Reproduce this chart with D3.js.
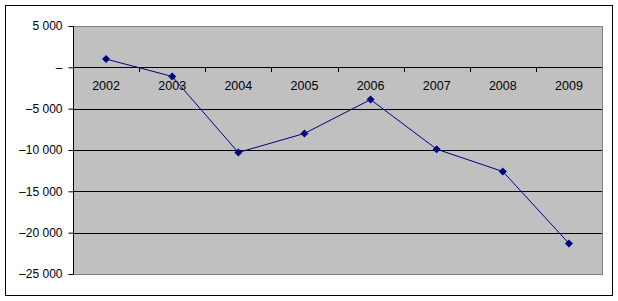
<!DOCTYPE html>
<html>
<head>
<meta charset="utf-8">
<script src="https://cdn.jsdelivr.net/npm/d3@7"></script>
<style>
  body { margin: 0; background: #fff; }
  svg { display: block; }
</style>
</head>
<body>
<div id="chart"></div>
<script>
const years = ["2002", "2003", "2004", "2005", "2006", "2007", "2008", "2009"];
const values = [1000, -1100, -10300, -8000, -3900, -9900, -12600, -21300];
const yTicks = [5000, 0, -5000, -10000, -15000, -20000, -25000];

const W = 618, H = 301;
const plot = { left: 73, right: 602, top: 26, bottom: 274 };

const svg = d3.select("#chart")
  .append("svg")
    .attr("width", W)
    .attr("height", H)
    .style("font-family", "Arial, 'Liberation Sans', sans-serif");

// chart frame
svg.append("rect")
  .attr("x", 5.5).attr("y", 5.5)
  .attr("width", 607).attr("height", 290)
  .attr("fill", "#fff")
  .attr("stroke", "#000")
  .attr("stroke-width", 1);

const x = d3.scaleBand()
  .domain(years)
  .range([plot.left, plot.right]);

const y = d3.scaleLinear()
  .domain([-25000, 5000])
  .range([plot.bottom, plot.top]);

// plot area
svg.append("rect")
  .attr("x", plot.left + 0.5).attr("y", plot.top + 0.5)
  .attr("width", plot.right - plot.left).attr("height", plot.bottom - plot.top)
  .attr("fill", "#c0c0c0")
  .attr("stroke", "#808080")
  .attr("stroke-width", 1);

// gridlines
svg.append("g")
  .selectAll("line")
  .data(yTicks.filter(d => d < 5000 && d > -25000))
  .join("line")
    .attr("x1", plot.left)
    .attr("x2", plot.right)
    .attr("y1", d => Math.round(y(d)) + 0.5)
    .attr("y2", d => Math.round(y(d)) + 0.5)
    .attr("stroke", "#000");

// y axis
const fmt = d => d === 0 ? "\u2013" : (d < 0 ? "\u2013" : "") + d3.format(",")(Math.abs(d)).replace(/,/g, " ");
const yAxis = svg.append("g")
  .attr("transform", `translate(${plot.left + 0.5},0)`)
  .call(d3.axisLeft(y).tickValues(yTicks).tickSize(5).tickPadding(6).tickFormat(fmt));
yAxis.selectAll("path").attr("stroke", "#000").attr("d", `M0,${plot.top}V${plot.bottom}`);
yAxis.selectAll(".tick line").attr("stroke", "#000");
yAxis.selectAll("text")
  .attr("font-size", "12px")
  .attr("font-family", "Arial, 'Liberation Sans', sans-serif")
  .attr("fill", "#000");

// category axis at zero
const xAxis = svg.append("g")
  .attr("transform", `translate(0,${Math.round(y(0)) + 0.5})`)
  .call(d3.axisBottom(x).tickSize(0).tickPadding(14));
xAxis.select(".domain").remove();
xAxis.selectAll("text")
  .attr("font-size", "12.5px")
  .attr("font-family", "Arial, 'Liberation Sans', sans-serif")
  .attr("fill", "#000");

// category tick marks at band boundaries
svg.append("g")
  .selectAll("line")
  .data(years.slice(1))
  .join("line")
    .attr("x1", d => Math.round(x(d)) + 0.5)
    .attr("x2", d => Math.round(x(d)) + 0.5)
    .attr("y1", Math.round(y(0)))
    .attr("y2", Math.round(y(0)) + 5)
    .attr("stroke", "#000");

// series line
const pts = years.map((yr, i) => ({ year: yr, value: values[i] }));
const line = d3.line()
  .x(d => x(d.year) + x.bandwidth() / 2)
  .y(d => y(d.value));

svg.append("path")
  .datum(pts)
  .attr("fill", "none")
  .attr("stroke", "#000080")
  .attr("stroke-width", 1)
  .attr("d", line);

svg.append("g")
  .selectAll("path")
  .data(pts)
  .join("path")
    .attr("transform", d => `translate(${x(d.year) + x.bandwidth() / 2},${y(d.value)})`)
    .attr("d", "M0,-4L4,0L0,4L-4,0Z")
    .attr("fill", "#000080");
</script>
</body>
</html>
